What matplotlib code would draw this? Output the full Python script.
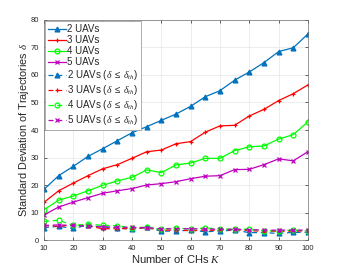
import matplotlib
matplotlib.use('Agg')
import matplotlib.pyplot as plt

plt.rcParams['font.family'] = ['Liberation Sans', 'DejaVu Sans']
plt.rcParams['mathtext.fontset'] = 'custom'
plt.rcParams['mathtext.it'] = 'Liberation Serif:italic'
plt.rcParams['mathtext.rm'] = 'Liberation Sans'

# Number of CHs
ks = [10, 15, 20, 25, 30, 35, 40, 45, 50, 55, 60, 65, 70, 75, 80, 85, 90, 95, 100]

# standard deviation without threshold
std_2 = [18.4, 23.4, 26.8, 30.4, 33.2, 36.1, 39.0, 41.2, 43.5, 45.8, 48.6, 52.1, 54.3, 58.1, 61.1, 64.5, 68.5, 69.9, 74.9]
std_3 = [13.7, 17.9, 20.7, 23.4, 25.9, 27.4, 29.7, 32.1, 32.7, 35.0, 35.8, 39.2, 41.5, 41.7, 45.1, 47.5, 50.7, 53.2, 56.4]
std_4 = [11.0, 14.5, 16.0, 17.9, 19.9, 21.5, 22.8, 25.5, 24.5, 27.3, 28.0, 29.7, 29.7, 32.5, 33.9, 34.2, 36.7, 38.3, 43.0]
std_5 = [9.1, 12.0, 13.8, 15.4, 17.0, 17.9, 18.7, 20.0, 20.5, 21.2, 22.3, 23.2, 23.4, 25.6, 25.7, 27.4, 29.5, 28.8, 32.1]

# with threshold delta <= delta_th
th_2 = [4.5, 5.0, 4.2, 5.5, 4.6, 4.4, 3.9, 4.6, 3.2, 3.3, 3.6, 3.0, 3.3, 3.6, 2.7, 2.7, 2.4, 2.8, 2.8]
th_3 = [5.3, 5.0, 5.5, 5.1, 4.1, 4.1, 4.2, 4.5, 3.6, 3.6, 3.4, 3.6, 3.5, 3.8, 3.4, 3.2, 3.2, 3.2, 3.4]
th_4 = [6.8, 7.2, 5.3, 5.8, 5.3, 5.2, 4.4, 4.7, 3.9, 4.4, 4.0, 4.4, 4.0, 4.0, 3.9, 3.4, 3.4, 3.6, 3.4]
th_5 = [5.3, 5.5, 5.3, 5.1, 4.8, 4.7, 4.6, 4.5, 4.1, 4.1, 4.1, 4.0, 3.9, 3.9, 3.8, 3.6, 3.6, 3.6, 3.6]

cores = ['#0072BD', '#FF0000', '#00FF00', '#BF00BF']
marcas = ['^', '+', 'o', 'x']
cinza = '#262626'

fig = plt.figure(figsize=(3.41, 2.70), dpi=100)
ax = fig.add_axes([0.129, 0.111, 0.774, 0.815])

for i, serie in enumerate([std_2, std_3, std_4, std_5]):
    ax.plot(ks, serie, color=cores[i], marker=marcas[i], markersize=3.5, linewidth=0.9,
            markerfacecolor='none' if marcas[i] == 'o' else cores[i], markeredgewidth=0.9,
            label=f'{i + 2} UAVs')
for i, serie in enumerate([th_2, th_3, th_4, th_5]):
    ax.plot(ks, serie, color=cores[i], marker=marcas[i], markersize=3.5, linewidth=0.9,
            linestyle=(0, (4, 3)), markerfacecolor='none' if marcas[i] == 'o' else cores[i],
            markeredgewidth=0.9, label=rf'{i + 2} UAVs $(\delta\ \leq\ \delta_{{th}})$')

ax.set_xlim(10, 100)
ax.set_ylim(0, 80)
ax.set_xticks(range(10, 101, 10))
ax.set_yticks(range(0, 81, 10))
ax.tick_params(direction='in', labelsize=5.5, length=2, width=0.5, colors=cinza,
               top=True, right=True)
ax.grid(True, color='#e6e6e6', linewidth=0.5)
for s in ax.spines.values():
    s.set_linewidth(0.5)
    s.set_color('#707070')
ax.set_xlabel('Number of CHs $K$', fontsize=8, labelpad=1, color=cinza)
ax.set_ylabel(r'Standard Deviation of Trajectories $\delta$', fontsize=7.8, labelpad=0, color=cinza)

leg = ax.legend(loc='upper left', fontsize=7, handlelength=1.8, labelspacing=0.1,
                borderpad=0.3, handletextpad=0.15, fancybox=False, framealpha=1,
                edgecolor='#a0a0a0', borderaxespad=0.15)
leg.get_frame().set_linewidth(0.6)
for t in leg.get_texts():
    t.set_color(cinza)

plt.savefig('out.png', dpi=100)
